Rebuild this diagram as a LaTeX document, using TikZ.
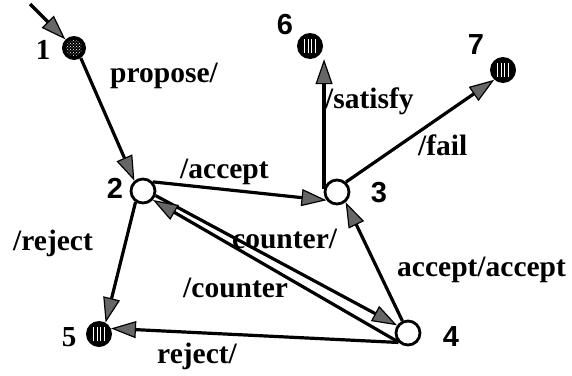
\documentclass[tikz,border=0pt]{standalone}
\usepackage{fontspec}
\setmainfont{Liberation Serif}
\newfontfamily\numsans{Liberation Sans}
\usetikzlibrary{arrows.meta,patterns}

\tikzset{
  arr/.style={line width=3.2pt,
    -{Triangle[length=25pt,width=17pt,fill=black!60,line width=1.2pt]}},
  state/.style={circle, draw=black, line width=2.8pt, fill=white,
    minimum size=24pt, inner sep=0pt},
  start/.style={circle, fill=black, minimum size=24pt, inner sep=0pt,
    path picture={\fill[pattern=crosshatch dots, pattern color=white]
      (path picture bounding box.center) circle[radius=8pt];}},
  final/.style={circle, fill=black, minimum size=26pt, inner sep=0pt,
    path picture={\foreach \d in {-5.4,-1.8,1.8,5.4}
      \draw[white, line width=1pt]
        ([xshift=\d pt, yshift=-7pt]path picture bounding box.center)
        -- ++(0pt,14pt);}},
  lab/.style={font=\fontsize{29.5}{32}\selectfont\bfseries,
    anchor=base west, inner sep=0pt},
  num/.style={font=\fontsize{29}{30}\selectfont\numsans\bfseries, inner sep=0pt},
  snum/.style={font=\fontsize{29}{30}\selectfont\bfseries, inner sep=0pt}
}

\begin{document}
\begin{tikzpicture}[x=1pt, y=-1pt]
\useasboundingbox (0,0) rectangle (572,375);

% states
\node[start] (n1) at (74,48) {};
\node[state] (n2) at (143,191) {};
\node[state] (n3) at (337,192) {};
\node[state] (n4) at (408,333) {};
\node[final] (n5) at (99,334) {};
\node[final] (n6) at (310,46) {};
\node[final] (n7) at (503,70) {};

% state numbers
\node[snum] (l1) at (43,50) {1};
\node[num]  (l2) at (115,188) {2};
\node[num]  (l3) at (379,193) {3};
\node[num]  (l4) at (451,337) {4};
\node[snum] (l5) at (69,337) {5};
\node[num]  (l6) at (285,25) {6};
\node[num]  (l7) at (476,45) {7};

% initial arrow
\coordinate (init) at (30,4);
\draw[arr] (init) -- (n1.135);

% transitions
\draw[arr] (n1.-56) -- (n2.130);
\draw[arr] (n2.43) -- (n3.218);
\draw[arr] (n2.236) -- (n5.60);
\draw[arr] (n2.-20) -- (n4.145);
\draw[arr] (n4.220) -- (n2.-42);
\draw[arr] (n4.225) -- (n5.25);
\draw[arr] (n4.115) -- (n3.-50);
\draw[arr] (n3.165) -- (n3.165 |- n6.south);
\draw[arr] (n3.48) -- (n7.228);

% transition labels
\node[lab] (t12) at (110,82) {propose/};
\node[lab] (t23) at (180,178) {/accept};
\node[lab] (t25) at (13,250) {/reject};
\node[lab] (t24) at (232,248) {counter/};
\node[lab] (t42) at (183,297) {/counter};
\node[lab] (t43) at (397,276) {accept/accept};
\node[lab] (t45) at (157,363) {reject/};
\node[lab] (t36) at (325,108) {/satisfy};
\node[lab] (t37) at (418,155) {/fail};
\end{tikzpicture}
\end{document}
